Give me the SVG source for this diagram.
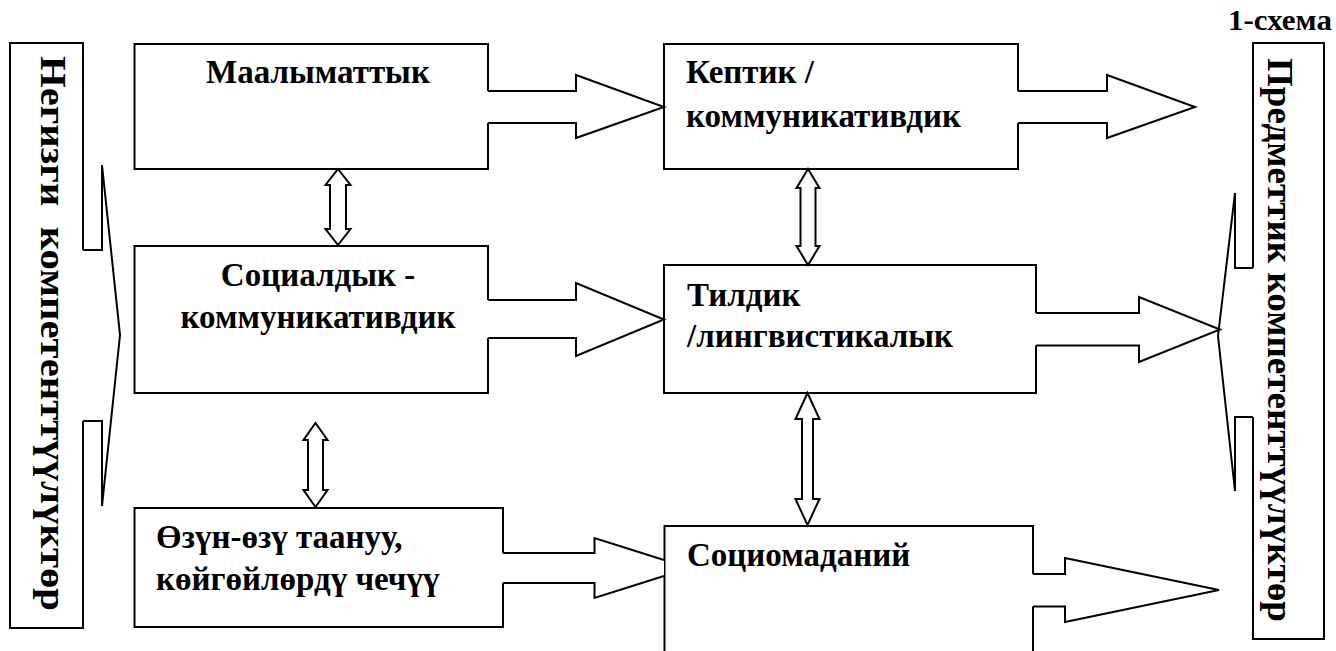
<svg xmlns="http://www.w3.org/2000/svg" width="1336" height="651" viewBox="0 0 1336 651">
<style>
.box{fill:#fff;stroke:#000;stroke-width:2}
.t{font-family:"Liberation Serif","Times New Roman",serif;font-weight:bold;font-size:33px;fill:#000}
.vt{font-family:"Liberation Serif","Times New Roman",serif;font-weight:bold;font-size:36px;fill:#000}
.af{fill:#fff;stroke:none}
.as{fill:none;stroke:#000;stroke-width:2;stroke-linejoin:miter}
.dbl{fill:#fff;stroke:#000;stroke-width:2;stroke-linejoin:miter}
</style>
<rect width="1336" height="651" fill="#fff"/>
<text id="caption" class="t" x="1332" y="30" text-anchor="end" style="font-size:29px" textLength="104" lengthAdjust="spacingAndGlyphs">1-схема</text>

<g id="node-negizgi">
<rect class="box" x="10" y="43" width="73" height="585"/>
<text class="vt" transform="translate(41,56) rotate(90)" textLength="555" lengthAdjust="spacingAndGlyphs">Негизги&#160; компетенттүүлүктөр</text>
</g>
<g id="node-predmettik">
<rect class="box" x="1253" y="43" width="71" height="596"/>
<text class="vt" transform="translate(1268,58) rotate(90)" textLength="564" lengthAdjust="spacingAndGlyphs">Предметтик компетенттүүлүктөр</text>
</g>
<g id="node-maalymattyk">
<rect class="box" x="134.5" y="44" width="353.5" height="125"/>
<text class="t" x="318" y="83" text-anchor="middle">Маалыматтык</text>
</g>
<g id="node-socialdyk">
<rect class="box" x="134.5" y="246" width="353.5" height="147"/>
<text class="t" x="318" y="286" text-anchor="middle">Социалдык -</text>
<text class="t" x="318" y="328" text-anchor="middle">коммуникативдик</text>
</g>
<g id="node-ozun">
<rect class="box" x="134.5" y="508" width="368.5" height="119"/>
<text class="t" x="156" y="548">Өзүн-өзү таануу,</text>
<text class="t" x="156" y="590">көйгөйлөрдү чечүү</text>
</g>
<g id="node-keptik">
<rect class="box" x="664" y="44" width="354" height="125"/>
<text class="t" x="686" y="83">Кептик /</text>
<text class="t" x="686" y="127">коммуникативдик</text>
</g>
<g id="node-tildik">
<rect class="box" x="664" y="265" width="372" height="128"/>
<text class="t" x="687" y="306">Тилдик</text>
<text class="t" x="687" y="347">/лингвистикалык</text>
</g>
<g id="node-sociomadaniy">
<rect class="box" x="664.5" y="526" width="368.5" height="140"/>
<text class="t" x="687" y="566">Социомаданий</text>
</g>

<g id="connectors">
<!-- left bracket arrow -->
<polygon class="af" points="80,250 102,250 102,165 120,335 102,506 102,421 80,421"/>
<path class="as" d="M83,250 H102 V165 L120,335 L102,506 V421 H83"/>
<!-- right bracket arrow -->
<polygon class="af" points="1256,268 1235,268 1235,193 1218,336 1235,491 1235,417 1256,417"/>
<path class="as" d="M1253,268 H1235 V193 L1218,336 L1235,491 V417 H1253"/>

<!-- Маалыматтык -> Кептик -->
<polygon class="af" points="485,91 576,91 576,75 664,107 576,138 576,123 485,123"/>
<path class="as" d="M488,91 H576 V75 L664,107 L576,138 V123 H488"/>
<!-- Социалдык -> Тилдик -->
<polygon class="af" points="485,300 576,300 576,283 664,319.5 576,356 576,338 485,338"/>
<path class="as" d="M488,300 H576 V283 L664,319.5 L576,356 V338 H488"/>
<!-- Өзүн -> Социомаданий -->
<polygon class="af" points="500,553 594.5,553 594.5,538 664,560 664,576 594.5,598 594.5,583 500,583"/>
<path class="as" d="M503,553 H594.5 V538 L664,560 M664,576 L594.5,598 V583 H503"/>
<!-- Кептик -> right -->
<polygon class="af" points="1015,91 1107,91 1107,75 1195,107 1107,138 1107,123 1015,123"/>
<path class="as" d="M1018,91 H1107 V75 L1195,107 L1107,138 V123 H1018"/>
<!-- Тилдик -> right -->
<polygon class="af" points="1033,313 1139,313 1139,297 1220,329.5 1139,362 1139,345.5 1033,345.5"/>
<path class="as" d="M1036,313 H1139 V297 L1220,329.5 L1139,362 V345.5 H1036"/>
<!-- Социомаданий -> right -->
<polygon class="af" points="1030,574 1065,574 1065,558 1219,590 1065,622 1065,606.5 1030,606.5"/>
<path class="as" d="M1033,574 H1065 V558 L1219,590 L1065,622 V606.5 H1033"/>

<!-- double arrows -->
<polygon class="dbl" points="338,169 350.5,185 346,185 346,229 350.5,229 338,245 325.5,229 330,229 330,185 325.5,185"/>
<polygon class="dbl" points="315.5,423 327.5,440 323,440 323,490 327.5,490 315.5,507 303.5,490 308,490 308,440 303.5,440"/>
<polygon class="dbl" points="808,169 819.5,188 815.5,188 815.5,246 819.5,246 808,265 796.5,246 800.5,246 800.5,188 796.5,188"/>
<polygon class="dbl" points="807.5,393 819.5,419 813,419 813,499 819.5,499 807.5,525 795.5,499 802,499 802,419 795.5,419"/>
</g>
</svg>
